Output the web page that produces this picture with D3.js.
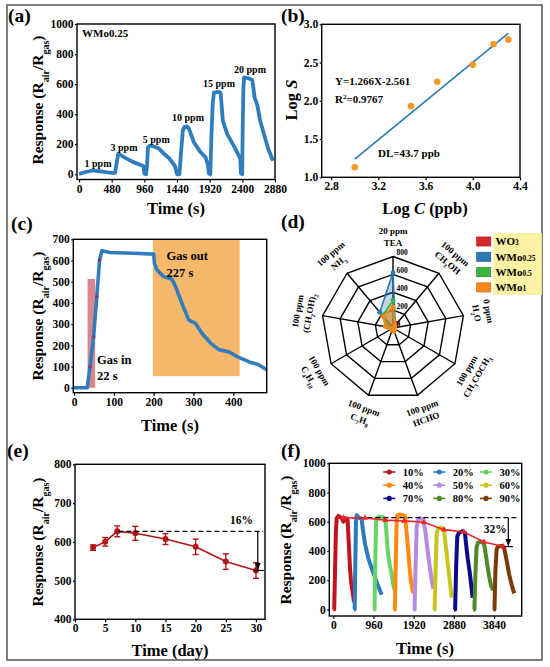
<!DOCTYPE html>
<html>
<head>
<meta charset="utf-8">
<script src="https://cdn.jsdelivr.net/npm/d3@7"></script>
<style>
  body { margin: 0; background: #fff; }
  svg { display: block; }
  text { font-family: "Liberation Serif", "Times New Roman", serif; font-weight: bold; }
</style>
</head>
<body>
<svg id="fig" width="550" height="667"></svg>
<script>
// ---------- data ----------

// (a) WMo0.25 dynamic response, 1-20 ppm TEA
var aLabels = ["1 ppm", "3 ppm", "5 ppm", "10 ppm", "15 ppm", "20 ppm"];
var aTime = [0, 100, 200, 300, 420, 510, 530, 555, 577, 612, 685, 783, 905, 945, 960, 985,
  1000, 1013, 1040, 1100, 1170, 1240, 1322, 1410, 1430, 1443, 1475, 1500, 1525, 1545, 1590, 1614,
  1688, 1785, 1859, 1895, 1908, 1930, 1945, 1965, 1982, 2040, 2080, 2114, 2178, 2275, 2349, 2370,
  2380, 2398, 2405, 2415, 2425, 2480, 2545, 2555, 2580, 2620, 2660, 2710, 2780, 2850];
var aResp = [3, 15, 25, 20, 12, 8, 10, 80, 138, 128, 107, 84, 62, 55, 5, 0,
  60, 180, 190, 185, 172, 140, 107, 55, 15, 0, 0, 150, 290, 313, 318, 305,
  213, 147, 113, 60, 5, 0, 250, 470, 543, 548, 543, 356, 267, 189, 122, 105,
  5, 0, 300, 560, 644, 640, 627, 600, 510, 460, 360, 280, 170, 90];

// (b) log-log fit
var bLogC = [3.0, 3.477, 3.699, 4.0, 4.176, 4.301];
var bLogS = [1.13, 1.93, 2.25, 2.47, 2.74, 2.80];
var bSlope = 1.266, bIntercept = -2.561;

// (c) response / recovery at 20 ppm
var cTime = [0, 33, 40, 49, 57, 64, 70, 90, 150, 200, 202, 208, 225, 246, 255, 271, 288, 305,
  322, 343, 364, 390, 411, 440, 461, 484];
var cResp = [0, 0, 99, 240, 429, 602, 646, 638, 634, 630, 587, 556, 524, 512, 477, 398, 320, 304,
  255, 211, 180, 169, 146, 122, 111, 86];
var cGasIn = [34, 53, 0, 513];     // t0, t1, v0, v1
var cGasOut = [198, 416, 55, 700];

// (d) selectivity radar
var dGases = ["TEA", "CH3OH", "H2O", "CH3COCH3", "HCHO", "C7H8", "C4H10", "(CH2OH)2", "NH3"];
var dConc = ["20 ppm", "100 ppm", "0 ppm", "100 ppm", "100 ppm", "100 ppm", "100 ppm", "100 ppm", "100 ppm"];
var dTicks = [200, 400, 600, 800];
var dSeriesNames = ["WO3", "WMo0.25", "WMo0.5", "WMo1"];
var dWO3 = [20, 70, 10, 12, 10, 10, 10, 15, 20];
var dWMo025 = [620, 40, 20, 20, 30, 20, 20, 60, 230];
var dWMo05 = [310, 30, 15, 15, 25, 15, 15, 50, 180];
var dWMo1 = [235, 45, 20, 25, 40, 30, 25, 90, 170];

// (e) long-term stability
var eDay = [3, 5, 7, 10, 15, 20, 25, 30];
var eResp = [585, 600, 627, 622, 607, 587, 549, 526];
var eErr = [7, 11, 14, 18, 14, 20, 20, 20];

// (f) humidity influence, one cycle per RH level
var fLabels = ["10%", "20%", "30%", "40%", "50%", "60%", "70%", "80%", "90%"];
var fColors = ["#c2141c", "#2b7bbd", "#66d466", "#ff8a12", "#b48be0", "#c8c61c", "#0b0b8c", "#4c8a2a", "#7a3b0c"];
var fCycles = [
  [[0,0],[20,0],[40,250],[60,520],[80,625],[120,640],[200,625],[240,600],[280,625],[340,620],[370,450],[395,300],[420,200],[450,140],[480,80],[494,50]],
  [[494,0],[510,0],[525,300],[541,600],[557,645],[600,630],[677,620],[700,560],[756,450],[836,350],[955,250],[1060,170],[1154,100]],
  [[960,0],[985,0],[1000,300],[1019,580],[1035,625],[1100,635],[1180,630],[1242,620],[1270,520],[1300,400],[1350,300],[1394,240],[1430,170],[1470,130]],
  [[1440,0],[1470,0],[1490,300],[1513,600],[1530,645],[1600,650],[1712,640],[1740,560],[1790,400],[1820,290],[1850,200],[1880,150],[1911,110]],
  [[1910,0],[1940,0],[1965,300],[1990,560],[2020,610],[2060,625],[2150,615],[2200,530],[2240,430],[2300,300],[2350,200],[2390,140]],
  [[2390,0],[2420,0],[2445,300],[2470,520],[2500,550],[2560,560],[2640,550],[2680,450],[2720,350],[2760,250],[2800,150],[2830,80]],
  [[2880,0],[2910,0],[2935,300],[2961,500],[3000,525],[3080,535],[3144,525],[3170,450],[3210,350],[3260,250],[3300,150],[3330,80]],
  [[3340,0],[3370,0],[3395,250],[3420,420],[3450,455],[3520,465],[3598,450],[3630,400],[3670,320],[3720,230],[3770,160],[3822,130]],
  [[3820,0],[3850,0],[3870,250],[3900,410],[3930,430],[4000,435],[4075,425],[4110,380],[4150,320],[4200,240],[4260,170],[4320,110]]
];
var fTrendT = [240, 756, 1242, 1690, 2166, 2643, 3120, 3598, 4060];
var fTrendV = [628, 626, 611, 606, 597, 546, 530, 462, 430];

// ---------- helpers ----------
var svg = d3.select("#fig");
var serif = '"Liberation Serif", "Times New Roman", serif';
var blue = "#2f7dbd";

svg.append("defs").append("marker")
  .attr("id", "arrow").attr("viewBox", "0 0 10 10").attr("refX", 9).attr("refY", 5)
  .attr("markerWidth", 6).attr("markerHeight", 7).attr("orient", "auto")
  .append("path").attr("d", "M0,1 L10,5 L0,9 Z").attr("fill", "#000");

// outer figure border
svg.append("rect").attr("x", 7).attr("y", 5).attr("width", 535).attr("height", 655)
  .attr("fill", "none").attr("stroke", "#555").attr("stroke-width", 1.5);

function styleTicks(g) {
  g.select(".domain").remove();
  g.attr("font-family", serif).attr("font-size", 11.5).attr("font-weight", "bold");
  g.selectAll("line").attr("stroke-width", 1.2);
}

function makePanel(box, xDom, yDom, xTicks, yTicks, fmtX, fmtY) {
  var g = svg.append("g");
  var marks = g.append("g");
  var x = d3.scaleLinear().domain(xDom).range([box.l, box.r]);
  var y = d3.scaleLinear().domain(yDom).range([box.b, box.t]);
  g.append("g").attr("transform", "translate(0," + box.b + ")")
    .call(d3.axisBottom(x).tickValues(xTicks).tickSize(3).tickPadding(2).tickFormat(fmtX || d3.format("d")))
    .call(styleTicks);
  g.append("g").attr("transform", "translate(" + box.l + ",0)")
    .call(d3.axisLeft(y).tickValues(yTicks).tickSize(2).tickPadding(1.5).tickFormat(fmtY || d3.format("d")))
    .call(styleTicks);
  g.append("rect").attr("x", box.l).attr("y", box.t)
    .attr("width", box.r - box.l).attr("height", box.b - box.t)
    .attr("fill", "none").attr("stroke", "#000").attr("stroke-width", 1.4);
  return { g: g, marks: marks, x: x, y: y };
}

function panelLetter(txt, x, y) {
  svg.append("text").attr("x", x).attr("y", y).attr("font-size", 19.5).text(txt);
}

function responseLabel(cx, cy) {
  var t = svg.append("text").attr("transform", "translate(" + cx + "," + cy + ") rotate(-90)")
    .attr("text-anchor", "middle").attr("font-size", 15.5);
  t.append("tspan").text("Response (R");
  t.append("tspan").attr("font-size", 10).attr("baseline-shift", "sub").text("air");
  t.append("tspan").text("/R");
  t.append("tspan").attr("font-size", 10).attr("baseline-shift", "sub").text("gas");
  t.append("tspan").text(")");
}

function xLabel(txt, cx, y) {
  return svg.append("text").attr("x", cx).attr("y", y).attr("text-anchor", "middle")
    .attr("font-size", 16.5).text(txt);
}

function note(sel, txt, x, y, size, anchor) {
  return sel.append("text").attr("x", x).attr("y", y).attr("font-size", size)
    .attr("text-anchor", anchor || "start").text(txt);
}

// ---------- (a) ----------
var pa = makePanel({ l: 77, r: 275, t: 24, b: 179.5 }, [-30, 2880], [-35, 1000],
  d3.range(0, 2881, 480), d3.range(0, 1001, 200));
pa.marks.append("path").datum(d3.zip(aTime, aResp))
  .attr("fill", "none").attr("stroke", blue).attr("stroke-width", 3.8).attr("stroke-linejoin", "round")
  .attr("d", d3.line().x(d => pa.x(d[0])).y(d => pa.y(d[1])));
var aNotePos = [[98, 166.7], [124, 150.7], [156.3, 143.3], [188, 120.7], [219, 87.3], [250, 73.3]];
aLabels.forEach((lab, i) => note(pa.g, lab, aNotePos[i][0], aNotePos[i][1], 10, "middle"));
note(pa.g, "WMo0.25", 82, 37, 11);
panelLetter("(a)", 8, 22);
responseLabel(43, 100);
xLabel("Time (s)", 176, 214);

// ---------- (b) ----------
var pb = makePanel({ l: 321.7, r: 520, t: 24.3, b: 177.3 }, [2.72, 4.4], [1, 3],
  [2.8, 3.2, 3.6, 4.0, 4.4], [1.0, 1.5, 2.0, 2.5, 3.0], d3.format(".1f"), d3.format(".1f"));
var fitX = [3.0, 4.3];
pb.marks.append("path").datum(fitX)
  .attr("fill", "none").attr("stroke", "#2a7ab7").attr("stroke-width", 1.6)
  .attr("d", d3.line().x(d => pb.x(d)).y(d => pb.y(bSlope * d + bIntercept)));
pb.marks.selectAll("circle").data(d3.zip(bLogC, bLogS)).join("circle")
  .attr("cx", d => pb.x(d[0])).attr("cy", d => pb.y(d[1])).attr("r", 3.3)
  .attr("fill", "#f59a23");
note(pb.g, "Y=1.266X-2.561", 335, 85, 11);
var r2 = note(pb.g, "R", 335, 103.3, 11);
r2.append("tspan").attr("font-size", 7).attr("baseline-shift", "super").text("2");
r2.append("tspan").text("=0.9767");
note(pb.g, "DL=43.7 ppb", 378, 156.7, 11);
panelLetter("(b)", 281, 22);
var ls = svg.append("text").attr("transform", "translate(297,100) rotate(-90)")
  .attr("text-anchor", "middle").attr("font-size", 16.5);
ls.append("tspan").text("Log ");
ls.append("tspan").attr("font-style", "italic").text("S");
var lc = xLabel("Log ", 425, 214);
lc.append("tspan").attr("font-style", "italic").text("C");
lc.append("tspan").text(" (ppb)");

// ---------- (c) ----------
var pc = makePanel({ l: 73.3, r: 266.7, t: 239.3, b: 392.7 }, [-2, 484], [-23, 700],
  d3.range(0, 401, 100), d3.range(0, 701, 100));
pc.marks.append("rect")
  .attr("x", pc.x(cGasOut[0])).attr("width", pc.x(cGasOut[1]) - pc.x(cGasOut[0]))
  .attr("y", pc.y(cGasOut[3])).attr("height", pc.y(cGasOut[2]) - pc.y(cGasOut[3]))
  .attr("fill", "#f6b86a");
pc.marks.append("rect")
  .attr("x", pc.x(cGasIn[0])).attr("width", pc.x(cGasIn[1]) - pc.x(cGasIn[0]))
  .attr("y", pc.y(cGasIn[3])).attr("height", pc.y(cGasIn[2]) - pc.y(cGasIn[3]))
  .attr("fill", "#d9868c");
pc.marks.append("path").datum(d3.zip(cTime, cResp))
  .attr("fill", "none").attr("stroke", blue).attr("stroke-width", 3.6).attr("stroke-linejoin", "round")
  .attr("d", d3.line().x(d => pc.x(d[0])).y(d => pc.y(d[1])));
pc.marks.selectAll("circle").data(d3.zip(cTime, cResp).filter(d => d[0] > 33 && d[0] < 65)).join("circle")
  .attr("cx", d => pc.x(d[0])).attr("cy", d => pc.y(d[1])).attr("r", 1.8).attr("fill", "#7a3f78");
note(pc.g, "Gas in", 97, 364, 12.5);
note(pc.g, "22 s", 97, 379.5, 12.5);
note(pc.g, "Gas out", 166.5, 260, 12.5);
note(pc.g, "227 s", 166.5, 277, 12.5);
panelLetter("(c)", 11, 230);
responseLabel(43, 316);
xLabel("Time (s)", 170, 431);

// ---------- (d) radar ----------
var dCx = 393, dCy = 328, dR = 71.5;
var rScale = d3.scaleLinear().domain([0, 800]).range([0, dR]);
var nAx = dGases.length;
var angle = d3.scaleLinear().domain([0, nAx]).range([0, 2 * Math.PI]);
var radar = svg.append("g").attr("transform", "translate(" + dCx + "," + dCy + ")");
var ringLine = d3.lineRadial().angle((d, i) => angle(i)).radius(d => rScale(d)).curve(d3.curveLinearClosed);
dTicks.forEach(v => {
  radar.append("path").attr("d", ringLine(d3.range(nAx).map(() => v)))
    .attr("fill", "none").attr("stroke", "#000").attr("stroke-width", 1.4);
});
dGases.forEach((gname, i) => {
  var p = d3.pointRadial(angle(i), rScale(800));
  radar.append("line").attr("x1", 0).attr("y1", 0).attr("x2", p[0]).attr("y2", p[1])
    .attr("stroke", "#000").attr("stroke-width", 1.4);
});
var dSeries = [dWO3, dWMo025, dWMo05, dWMo1];
var dColors = ["#d62728", "#2e78b4", "#3cb33c", "#f7871b"];
dSeries.forEach((vals, k) => {
  radar.append("path").attr("d", ringLine(vals))
    .attr("fill", dColors[k]).attr("fill-opacity", k === 3 ? 0.55 : 0.3)
    .attr("stroke", dColors[k]).attr("stroke-width", 1.6);
  radar.selectAll(null).data(vals).join("circle")
    .attr("cx", (d, i) => d3.pointRadial(angle(i), rScale(d))[0])
    .attr("cy", (d, i) => d3.pointRadial(angle(i), rScale(d))[1])
    .attr("r", 2.4).attr("fill", dColors[k]);
});
[0].concat(dTicks).forEach(v => {
  radar.append("text").attr("x", 3.5).attr("y", -rScale(v) - 1.5)
    .attr("font-size", 7.5).text(v);
});
function formula(sel, str) {
  str.split(/(\d+)/).forEach((part, i) => {
    if (!part) return;
    var t = sel.append("tspan").text(part);
    if (i % 2) t.attr("font-size", 6).attr("baseline-shift", "sub");
  });
}
dGases.forEach((gname, i) => {
  var deg = 360 * i / nAx;
  var p = d3.pointRadial(angle(i), dR + 19.5);
  var rot = (deg > 90 && deg < 270) ? deg - 180 : deg;
  var lg = radar.append("g").attr("transform", "translate(" + p[0] + "," + p[1] + ") rotate(" + rot + ")")
    .attr("text-anchor", "middle").attr("font-size", 9);
  lg.append("text").attr("y", -2.8).text(dConc[i]);
  formula(lg.append("text").attr("y", 9), gname);
});
// legend
svg.append("rect").attr("x", 493.3).attr("y", 233).attr("width", 48.5).attr("height", 62).attr("fill", "#fdf2a4");
dSeriesNames.forEach((name, k) => {
  var yy = 241.5 + k * 15.3;
  svg.append("rect").attr("x", 476.7).attr("y", yy - 4.5).attr("width", 14).attr("height", 9)
    .attr("fill", dColors[k]).attr("stroke", d3.color(dColors[k]).darker(0.6)).attr("stroke-width", 0.8);
  var t = svg.append("text").attr("x", 495.5).attr("y", yy + 3.8).attr("font-size", 11);
  var m = name.match(/^([A-Za-z]+)(.*)$/);
  t.append("tspan").text(m[1]);
  t.append("tspan").attr("font-size", 7.5).text(m[2]);
});
panelLetter("(d)", 281, 228);

// ---------- (e) ----------
var pe = makePanel({ l: 75, r: 265, t: 464.3, b: 619.3 }, [0, 31.5], [400, 800],
  d3.range(0, 31, 5), d3.range(400, 801, 100));
var eRed = "#b41515";
var ePts = d3.zip(eDay, eResp, eErr);
pe.marks.append("path").datum(ePts).attr("fill", "none").attr("stroke", eRed).attr("stroke-width", 1.6)
  .attr("d", d3.line().x(d => pe.x(d[0])).y(d => pe.y(d[1])));
var eb = pe.marks.selectAll("g.err").data(ePts).join("g").attr("stroke", eRed).attr("stroke-width", 1.4);
eb.append("line").attr("x1", d => pe.x(d[0])).attr("x2", d => pe.x(d[0]))
  .attr("y1", d => pe.y(d[1] - d[2])).attr("y2", d => pe.y(d[1] + d[2]));
eb.append("line").attr("x1", d => pe.x(d[0]) - 3).attr("x2", d => pe.x(d[0]) + 3)
  .attr("y1", d => pe.y(d[1] - d[2])).attr("y2", d => pe.y(d[1] - d[2]));
eb.append("line").attr("x1", d => pe.x(d[0]) - 3).attr("x2", d => pe.x(d[0]) + 3)
  .attr("y1", d => pe.y(d[1] + d[2])).attr("y2", d => pe.y(d[1] + d[2]));
pe.marks.selectAll("circle").data(ePts).join("circle")
  .attr("cx", d => pe.x(d[0])).attr("cy", d => pe.y(d[1])).attr("r", 3).attr("fill", eRed);
pe.marks.append("line").attr("x1", pe.x(7.2)).attr("x2", pe.x(31.2))
  .attr("y1", pe.y(eResp[2])).attr("y2", pe.y(eResp[2]))
  .attr("stroke", "#000").attr("stroke-width", 1.2).attr("stroke-dasharray", "5,3");
pe.marks.append("line").attr("x1", pe.x(29.6)).attr("x2", pe.x(31.3))
  .attr("y1", pe.y(eResp[7])).attr("y2", pe.y(eResp[7])).attr("stroke", "#000").attr("stroke-width", 1.2);
pe.marks.append("line").attr("x1", pe.x(30.3)).attr("x2", pe.x(30.3))
  .attr("y1", pe.y(eResp[2])).attr("y2", pe.y(eResp[7]) - 1)
  .attr("stroke", "#000").attr("stroke-width", 1.2).attr("marker-end", "url(#arrow)");
note(pe.g, "16%", 253, 524, 11.5, "end");
panelLetter("(e)", 7, 457);
responseLabel(43, 542);
xLabel("Time (day)", 170, 656);

// ---------- (f) ----------
var pf = makePanel({ l: 329.3, r: 521.7, t: 463.3, b: 616 }, [-96, 4500], [-45, 1000],
  d3.range(0, 3841, 960), d3.range(0, 1001, 200));
var fLine = d3.line().x(d => pf.x(d[0])).y(d => pf.y(d[1]));
fCycles.forEach((cyc, k) => {
  pf.marks.append("path").datum(cyc).attr("fill", "none").attr("stroke", fColors[k])
    .attr("stroke-width", 4).attr("stroke-linejoin", "round").attr("d", fLine);
});
pf.marks.append("line").attr("x1", pf.x(240)).attr("x2", pf.x(4440))
  .attr("y1", pf.y(fTrendV[0])).attr("y2", pf.y(fTrendV[0]))
  .attr("stroke", "#000").attr("stroke-width", 1.2).attr("stroke-dasharray", "5,3");
var trend = d3.zip(fTrendT, fTrendV);
pf.marks.append("path").datum(trend).attr("fill", "none").attr("stroke", "#f02525").attr("stroke-width", 1.6).attr("d", fLine);
pf.marks.selectAll("path.tri").data(trend).join("path").attr("class", "tri")
  .attr("transform", d => "translate(" + pf.x(d[0]) + "," + pf.y(d[1]) + ")")
  .attr("d", d3.symbol(d3.symbolTriangle, 16)).attr("fill", "#f02525");
pf.marks.append("line").attr("x1", pf.x(4075)).attr("x2", pf.x(4290))
  .attr("y1", pf.y(fTrendV[8])).attr("y2", pf.y(fTrendV[8])).attr("stroke", "#000").attr("stroke-width", 1.2);
pf.marks.append("line").attr("x1", pf.x(4180)).attr("x2", pf.x(4180))
  .attr("y1", pf.y(fTrendV[0])).attr("y2", pf.y(fTrendV[8]) - 1)
  .attr("stroke", "#000").attr("stroke-width", 1.2).attr("marker-end", "url(#arrow)");
note(pf.g, "32%", 506.7, 533.3, 11.5, "end");
// legend, 3 x 3
fLabels.forEach((lab, k) => {
  var col = k % 3, row = Math.floor(k / 3);
  var sx = [383.3, 433.3, 480][col], yy = 472 + row * 13.2;
  pf.g.append("line").attr("x1", sx).attr("x2", sx + 12).attr("y1", yy).attr("y2", yy)
    .attr("stroke", fColors[k]).attr("stroke-width", 1.6);
  pf.g.append("circle").attr("cx", sx + 6).attr("cy", yy).attr("r", 2.6).attr("fill", fColors[k]);
  note(pf.g, lab, sx + 19.5, yy + 3.6, 10.5);
});
panelLetter("(f)", 281, 457);
responseLabel(291, 540);
xLabel("Time (s)", 425, 654);
</script>
</body>
</html>
